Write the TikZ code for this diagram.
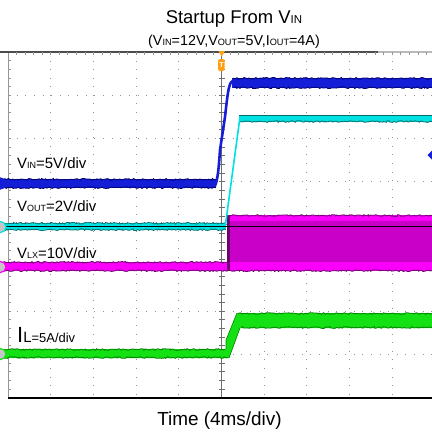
\documentclass[tikz,border=0pt]{standalone}
\usepackage{fontspec}
\setmainfont{Liberation Sans}
\usetikzlibrary{decorations.pathmorphing}
\definecolor{gridgrey}{RGB}{150,150,150}
\definecolor{axisgrey}{RGB}{110,110,110}
\definecolor{vinblue}{RGB}{20,30,215}
\definecolor{vindark}{RGB}{0,0,110}
\definecolor{voutcyan}{RGB}{0,225,225}
\definecolor{voutdark}{RGB}{0,110,110}
\definecolor{lxbright}{RGB}{250,0,250}
\definecolor{lxfill}{RGB}{200,0,200}
\definecolor{lxdark}{RGB}{110,0,110}
\definecolor{ilgreen}{RGB}{20,225,20}
\definecolor{ildark}{RGB}{0,130,0}
\definecolor{trigorange}{RGB}{255,160,20}
\newcommand\ssub[2]{{\fontsize{#1}{#1}\selectfont #2}}
\tikzset{
  hdots/.style={draw=gridgrey, line width=0.9bp, dash pattern=on 0.9bp off 7.64bp},
  vdots/.style={draw=gridgrey, line width=0.9bp, dash pattern=on 0.9bp off 7.74bp},
  axisline/.style={draw=axisgrey, line width=0.9bp},
  fuzz/.style={decorate, decoration={random steps, segment length=1.6bp, amplitude=0.9bp}, line width=0.8bp},
  lbl/.style={anchor=base west, inner sep=0pt, font=\fontsize{15}{17}\selectfont},
  chmark/.style={circle, minimum size=11bp, inner sep=0pt, line width=1.2bp, fill=gray!45}
}
\begin{document}
\begin{tikzpicture}[x=1bp,y=-1bp]
\pgfmathsetseed{11}
\useasboundingbox (0,0) rectangle (432,432);
\fill[white] (0,0) rectangle (432,432);

% ---- grid ----
\foreach \i in {1,2,3,4,6,7,8,9}
  \draw[hdots] ({8+42.7*\i},52) -- ({8+42.7*\i},398);
\foreach \j in {1,2,3,5,6,7}
  \draw[vdots] (8,{52+43.2*\j}) -- (432,{52+43.2*\j});
% centre axes with ticks
\draw[axisline] (221.7,52) -- (221.7,398);
\foreach \k in {1,...,39}
  \draw[axisline, line width=0.7bp] (218.7,{52+8.64*\k}) -- (224.7,{52+8.64*\k});
\draw[axisline] (8,224.8) -- (432,224.8);
\foreach \k in {1,...,49}
  \draw[axisline, line width=0.7bp] ({8+8.54*\k},221.8) -- ({8+8.54*\k},227.8);
% left border with ticks
\draw[draw=gridgrey, line width=1bp] (8,52) -- (8,398);
\foreach \k in {1,...,39}
  \draw[draw=gridgrey, line width=0.7bp] (8,{52+8.64*\k}) -- (10.5,{52+8.64*\k});
% top border with ticks
\draw[draw=black!70, line width=1.2bp] (0,52) -- (378,52);
\draw[draw=gray!55, line width=1.2bp] (378,52) -- (432,52);
\foreach \k in {1,...,49}
  \draw[draw=gridgrey, line width=0.7bp] ({8+8.54*\k},52) -- ({8+8.54*\k},55);

% ---- I_L (green) ----
\fill[ilgreen] (0,349) -- (226,349) -- (226,340) -- (237,313) -- (432,313)
  -- (432,328) -- (240,328) -- (229,358) -- (0,358) -- cycle;
\draw[ildark, fuzz] (0,349.5) -- (225,349.5);
\draw[ildark, fuzz] (0,357.5) -- (228,357.5);
\draw[ildark, fuzz] (238,313.5) -- (432,313.5);
\draw[ildark, fuzz] (241,327.5) -- (432,327.5);
\draw[ildark, line width=0.6bp] (226,349) -- (226,340) -- (237,313);
\draw[ildark, line width=0.6bp] (229,358) -- (240,328);

% ---- V_LX (magenta) ----
\fill[lxfill] (227,215) rectangle (432,271);
\fill[lxbright] (230,215) rectangle (432,221);
\fill[lxbright] (0,262) rectangle (432,271);
\fill[lxdark] (226.5,215) rectangle (229.5,271);
\draw[lxdark, fuzz] (230,215.5) -- (432,215.5);
\draw[lxdark, fuzz] (0,262.3) -- (227,262.3);
\draw[lxdark, fuzz] (0,270.7) -- (432,270.7);

% ---- V_OUT (cyan) ----
\fill[voutcyan] (0,223) rectangle (226,230);
\draw[voutdark, fuzz] (0,223.3) -- (226,223.3);
\draw[voutdark, fuzz] (0,229.7) -- (226,229.7);
\draw[voutcyan, line width=1.6bp, line join=round] (225,228) -- (240,117);
\fill[voutcyan] (239,115) rectangle (432,122);
\draw[voutdark, line width=1bp] (239,115.3) -- (432,115.3);
\draw[voutdark, fuzz] (240,121.6) -- (432,121.6);
% axis line shows dark over the traces
\draw[black, line width=0.9bp] (0,226.2) -- (432,226.2);

% ---- V_IN (blue) ----
\fill[vinblue] (0,179) rectangle (216,188);
\draw[vindark, fuzz] (0,179.3) -- (216,179.3);
\draw[vindark, fuzz] (0,187.7) -- (216,187.7);
\draw[vinblue, line width=2.6bp, line cap=round, line join=round]
  (215,186) .. controls (218,179) and (219,165) .. (220,150)
  -- (225,117) .. controls (228,90) and (229,81) .. (234,80);
\fill[vinblue] (232,78) rectangle (432,88);
\draw[vindark, fuzz] (233,78.3) -- (432,78.3);
\draw[vindark, fuzz] (234,87.7) -- (432,87.7);

% ---- channel markers ----
\node[chmark, draw=vinblue, fill=vinblue] (m1) at (0.5,183.5) {};
\node[chmark, draw=voutcyan] (m2) at (0.5,227) {};
\node[chmark, draw=lxbright] (m3) at (0.5,267) {};
\node[chmark, draw=ilgreen] (m4) at (0.5,354) {};
\fill[vinblue] (427.5,155) -- (432,150.5) -- (432,159.5) -- cycle;

% ---- trigger marker ----
\fill[trigorange] (218.4,51) -- (225,51) -- (221.7,56.5) -- cycle;
\node[fill=trigorange, rounded corners=1.5bp, minimum width=6.5bp, minimum height=12bp,
  inner sep=0pt, text=white, font=\fontsize{7}{7}\selectfont\bfseries] (trigT) at (221.4,65) {T};

% ---- bottom border ----
\draw[black, line width=2bp] (8,398) -- (432,398);

% ---- texts ----
\node[anchor=base, inner sep=0pt, font=\fontsize{18.5}{20}\selectfont] (title) at (234,23.5)
  {Startup From V\ssub{11.5}{IN}};
\node[anchor=base, inner sep=0pt, font=\fontsize{14.4}{16}\selectfont] (subtitle) at (234,45)
  {(V\ssub{9.2}{IN}=12V,V\ssub{9.2}{OUT}=5V,I\ssub{9.2}{OUT}=4A)};
\node[lbl] (lblvin) at (17,168.3) {V\ssub{9}{IN}=5V/div};
\node[lbl] (lblvout) at (17,211.7) {V\ssub{9}{OUT}=2V/div};
\node[lbl] (lblvlx) at (17,258.3) {V\ssub{9}{LX}=10V/div};
\node[lbl] (lblil) at (17,342) {{\fontsize{22}{22}\selectfont I}\ssub{15}{L}{\fontsize{13}{13}\selectfont =5A/div}};
\node[anchor=base, inner sep=0pt, font=\fontsize{19}{21}\selectfont] (xlabel) at (219.5,425)
  {Time (4ms/div)};
\end{tikzpicture}
\end{document}
